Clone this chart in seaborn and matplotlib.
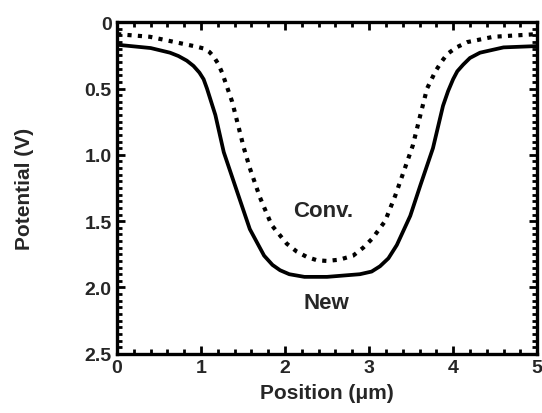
import matplotlib
matplotlib.use("Agg")
from matplotlib import pyplot as plt
from matplotlib.ticker import MultipleLocator
import pandas as pd
import seaborn as sns

# Potential profiles (x in um, potential in V)
new_x = [0.0, 0.4, 0.63, 0.73, 0.83, 0.91, 0.98, 1.03, 1.07, 1.17, 1.27, 1.43,
         1.58, 1.75, 1.85, 1.94, 2.05, 2.23, 2.5, 2.89, 3.03, 3.13, 3.23, 3.33,
         3.49, 3.61, 3.76, 3.88, 3.94, 4.0, 4.05, 4.12, 4.2, 4.32, 4.6, 5.0]
new_y = [0.17, 0.195, 0.23, 0.255, 0.29, 0.33, 0.38, 0.43, 0.50, 0.70, 0.98, 1.28,
         1.56, 1.76, 1.83, 1.87, 1.90, 1.92, 1.92, 1.90, 1.88, 1.84, 1.78, 1.68,
         1.46, 1.23, 0.95, 0.63, 0.52, 0.43, 0.37, 0.32, 0.27, 0.23, 0.19, 0.18]

conv_x = [0.0, 0.39, 0.8, 0.95, 1.04, 1.1, 1.15, 1.2, 1.25, 1.37, 1.51, 1.58,
          1.70, 1.84, 2.02, 2.14, 2.26, 2.38, 2.5, 2.65, 2.81, 2.93, 3.04, 3.19,
          3.31, 3.41, 3.52, 3.61, 3.69, 3.79, 3.86, 3.93, 4.04, 4.17, 4.48, 5.0]
conv_y = [0.09, 0.11, 0.165, 0.185, 0.2, 0.225, 0.26, 0.31, 0.38, 0.60, 0.95, 1.10,
          1.32, 1.53, 1.67, 1.73, 1.77, 1.795, 1.80, 1.79, 1.76, 1.70, 1.63, 1.50,
          1.31, 1.13, 0.93, 0.70, 0.50, 0.37, 0.30, 0.24, 0.19, 0.15, 0.11, 0.09]

x_ticks = [0, 1, 2, 3, 4, 5]
y_ticks = [0, 0.5, 1.0, 1.5, 2.0, 2.5]
y_tick_labels = ["0", "0.5", "1.0", "1.5", "2.0", "2.5"]

sns.set_style("ticks")
plt.rcParams["font.family"] = ["Liberation Sans", "DejaVu Sans"]
plt.rcParams["font.weight"] = "bold"

df_new = pd.DataFrame({"x": new_x, "y": new_y})
df_conv = pd.DataFrame({"x": conv_x, "y": conv_y})

fig = plt.figure(figsize=(5.42, 4.14), dpi=100)
ax = fig.add_axes([0.216, 0.143, 0.775, 0.801])

sns.lineplot(data=df_new, x="x", y="y", ax=ax, color="black", lw=2.7,
             estimator=None, sort=False)
sns.lineplot(data=df_conv, x="x", y="y", ax=ax, color="black", lw=3.0,
             estimator=None, sort=False, linestyle=(0, (1, 1.5)))

ax.set_xlim(0, 5)
ax.set_ylim(2.5, 0)
ax.set_xticks(x_ticks)
ax.set_xticklabels([str(t) for t in x_ticks])
ax.set_yticks(y_ticks)
ax.set_yticklabels(y_tick_labels)
ax.xaxis.set_minor_locator(MultipleLocator(0.2))
ax.yaxis.set_minor_locator(MultipleLocator(0.05))

ax.tick_params(which="both", direction="in", top=True, right=True, width=2.0,
               color="black")
ax.tick_params(which="major", length=6, labelsize=14, pad=4)
ax.tick_params(which="minor", length=3.5)
for lab in ax.get_xticklabels() + ax.get_yticklabels():
    lab.set_fontweight("bold")

for side in ["left", "right", "top", "bottom"]:
    ax.spines[side].set_visible(True)
    ax.spines[side].set_linewidth(2.4)
    ax.spines[side].set_color("black")

ax.set_xlabel("Position (\u03bcm)", fontsize=15, fontweight="bold", labelpad=5)
ax.set_ylabel("Potential (V)", fontsize=15, fontweight="bold", labelpad=36)

ax.text(2.45, 1.42, "Conv.", fontsize=16, fontweight="bold", ha="center",
        va="center")
ax.text(2.49, 2.11, "New", fontsize=16, fontweight="bold", ha="center",
        va="center")

fig.savefig("out.png", dpi=100)
